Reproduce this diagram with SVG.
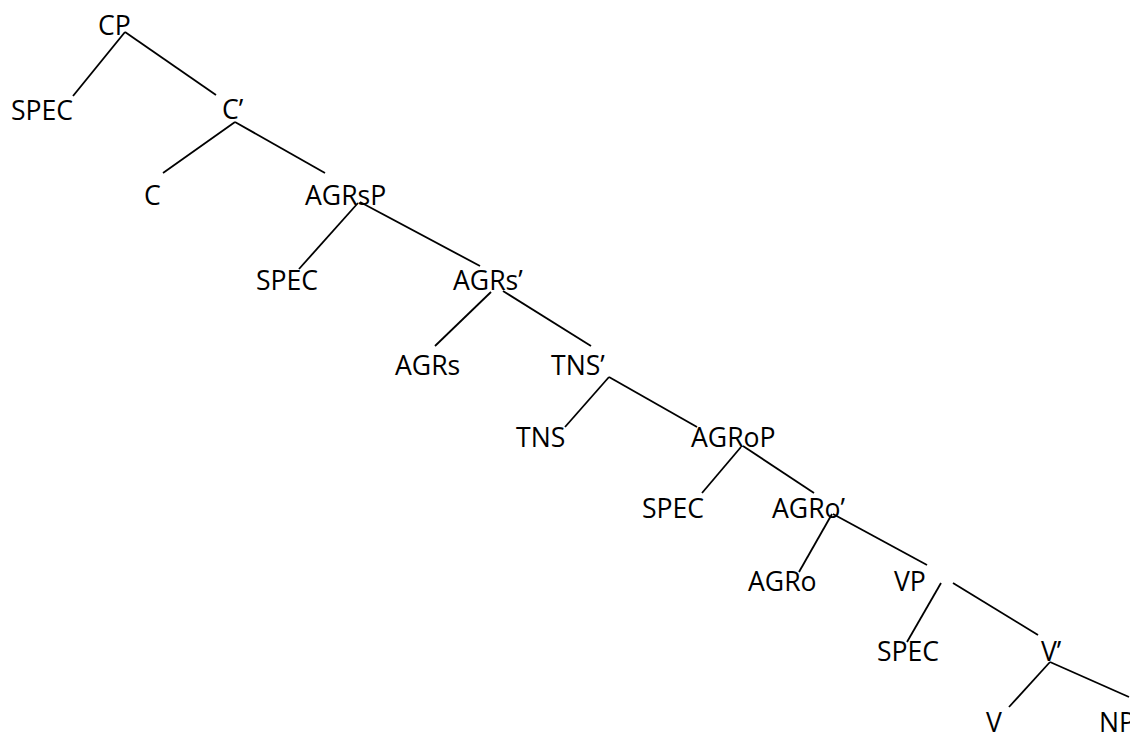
<svg xmlns="http://www.w3.org/2000/svg" width="1130" height="734" viewBox="0 0 1130 734">
<style>
text{font-family:"Open Sans","Noto Sans","Liberation Sans",sans-serif;font-size:26.6px;fill:#000}
line{stroke:#000;stroke-width:1.8}
</style>
<rect width="1130" height="734" fill="#fff"/>
<g id="connectors">
<line x1="125" y1="32" x2="73" y2="96"/>
<line x1="125" y1="32" x2="216" y2="95"/>
<line x1="235" y1="122" x2="163" y2="173"/>
<line x1="235" y1="122" x2="325" y2="173"/>
<line x1="358" y1="203" x2="299" y2="269"/>
<line x1="360" y1="202" x2="480" y2="266"/>
<line x1="491" y1="292" x2="435" y2="346"/>
<line x1="503" y1="291" x2="591" y2="346"/>
<line x1="609" y1="377" x2="565" y2="427"/>
<line x1="609" y1="377" x2="697" y2="427"/>
<line x1="741" y1="447" x2="702" y2="493"/>
<line x1="743" y1="446" x2="814" y2="493"/>
<line x1="832" y1="514" x2="799" y2="572"/>
<line x1="833" y1="514" x2="927" y2="565"/>
<line x1="941" y1="583" x2="907" y2="642"/>
<line x1="953" y1="583" x2="1038" y2="635"/>
<line x1="1050" y1="662" x2="1009" y2="707"/>
<line x1="1050" y1="662" x2="1129" y2="697"/>
</g>
<g id="n-CP"><text x="98" y="35">CP</text></g>
<g id="n-SPEC1"><text x="11" y="120">SPEC</text></g>
<g id="n-Cbar"><text x="222" y="119">C’</text></g>
<g id="n-C"><text x="144" y="205">C</text></g>
<g id="n-AGRsP"><text x="305" y="205">AGRsP</text></g>
<g id="n-SPEC2"><text x="256" y="290">SPEC</text></g>
<g id="n-AGRsbar"><text x="453" y="290">AGRs’</text></g>
<g id="n-AGRs"><text x="395" y="375">AGRs</text></g>
<g id="n-TNSbar"><text x="551" y="375">TNS’</text></g>
<g id="n-TNS"><text x="516" y="447">TNS</text></g>
<g id="n-AGRoP"><text x="691" y="447">AGRoP</text></g>
<g id="n-SPEC3"><text x="642" y="518">SPEC</text></g>
<g id="n-AGRobar"><text x="772" y="518">AGRo’</text></g>
<g id="n-AGRo"><text x="748" y="591">AGRo</text></g>
<g id="n-VP"><text x="894" y="591">VP</text></g>
<g id="n-SPEC4"><text x="877" y="661">SPEC</text></g>
<g id="n-Vbar"><text x="1041" y="661">V’</text></g>
<g id="n-V"><text x="986" y="732">V</text></g>
<g id="n-NP"><text x="1099" y="732">NP</text></g>
</svg>
